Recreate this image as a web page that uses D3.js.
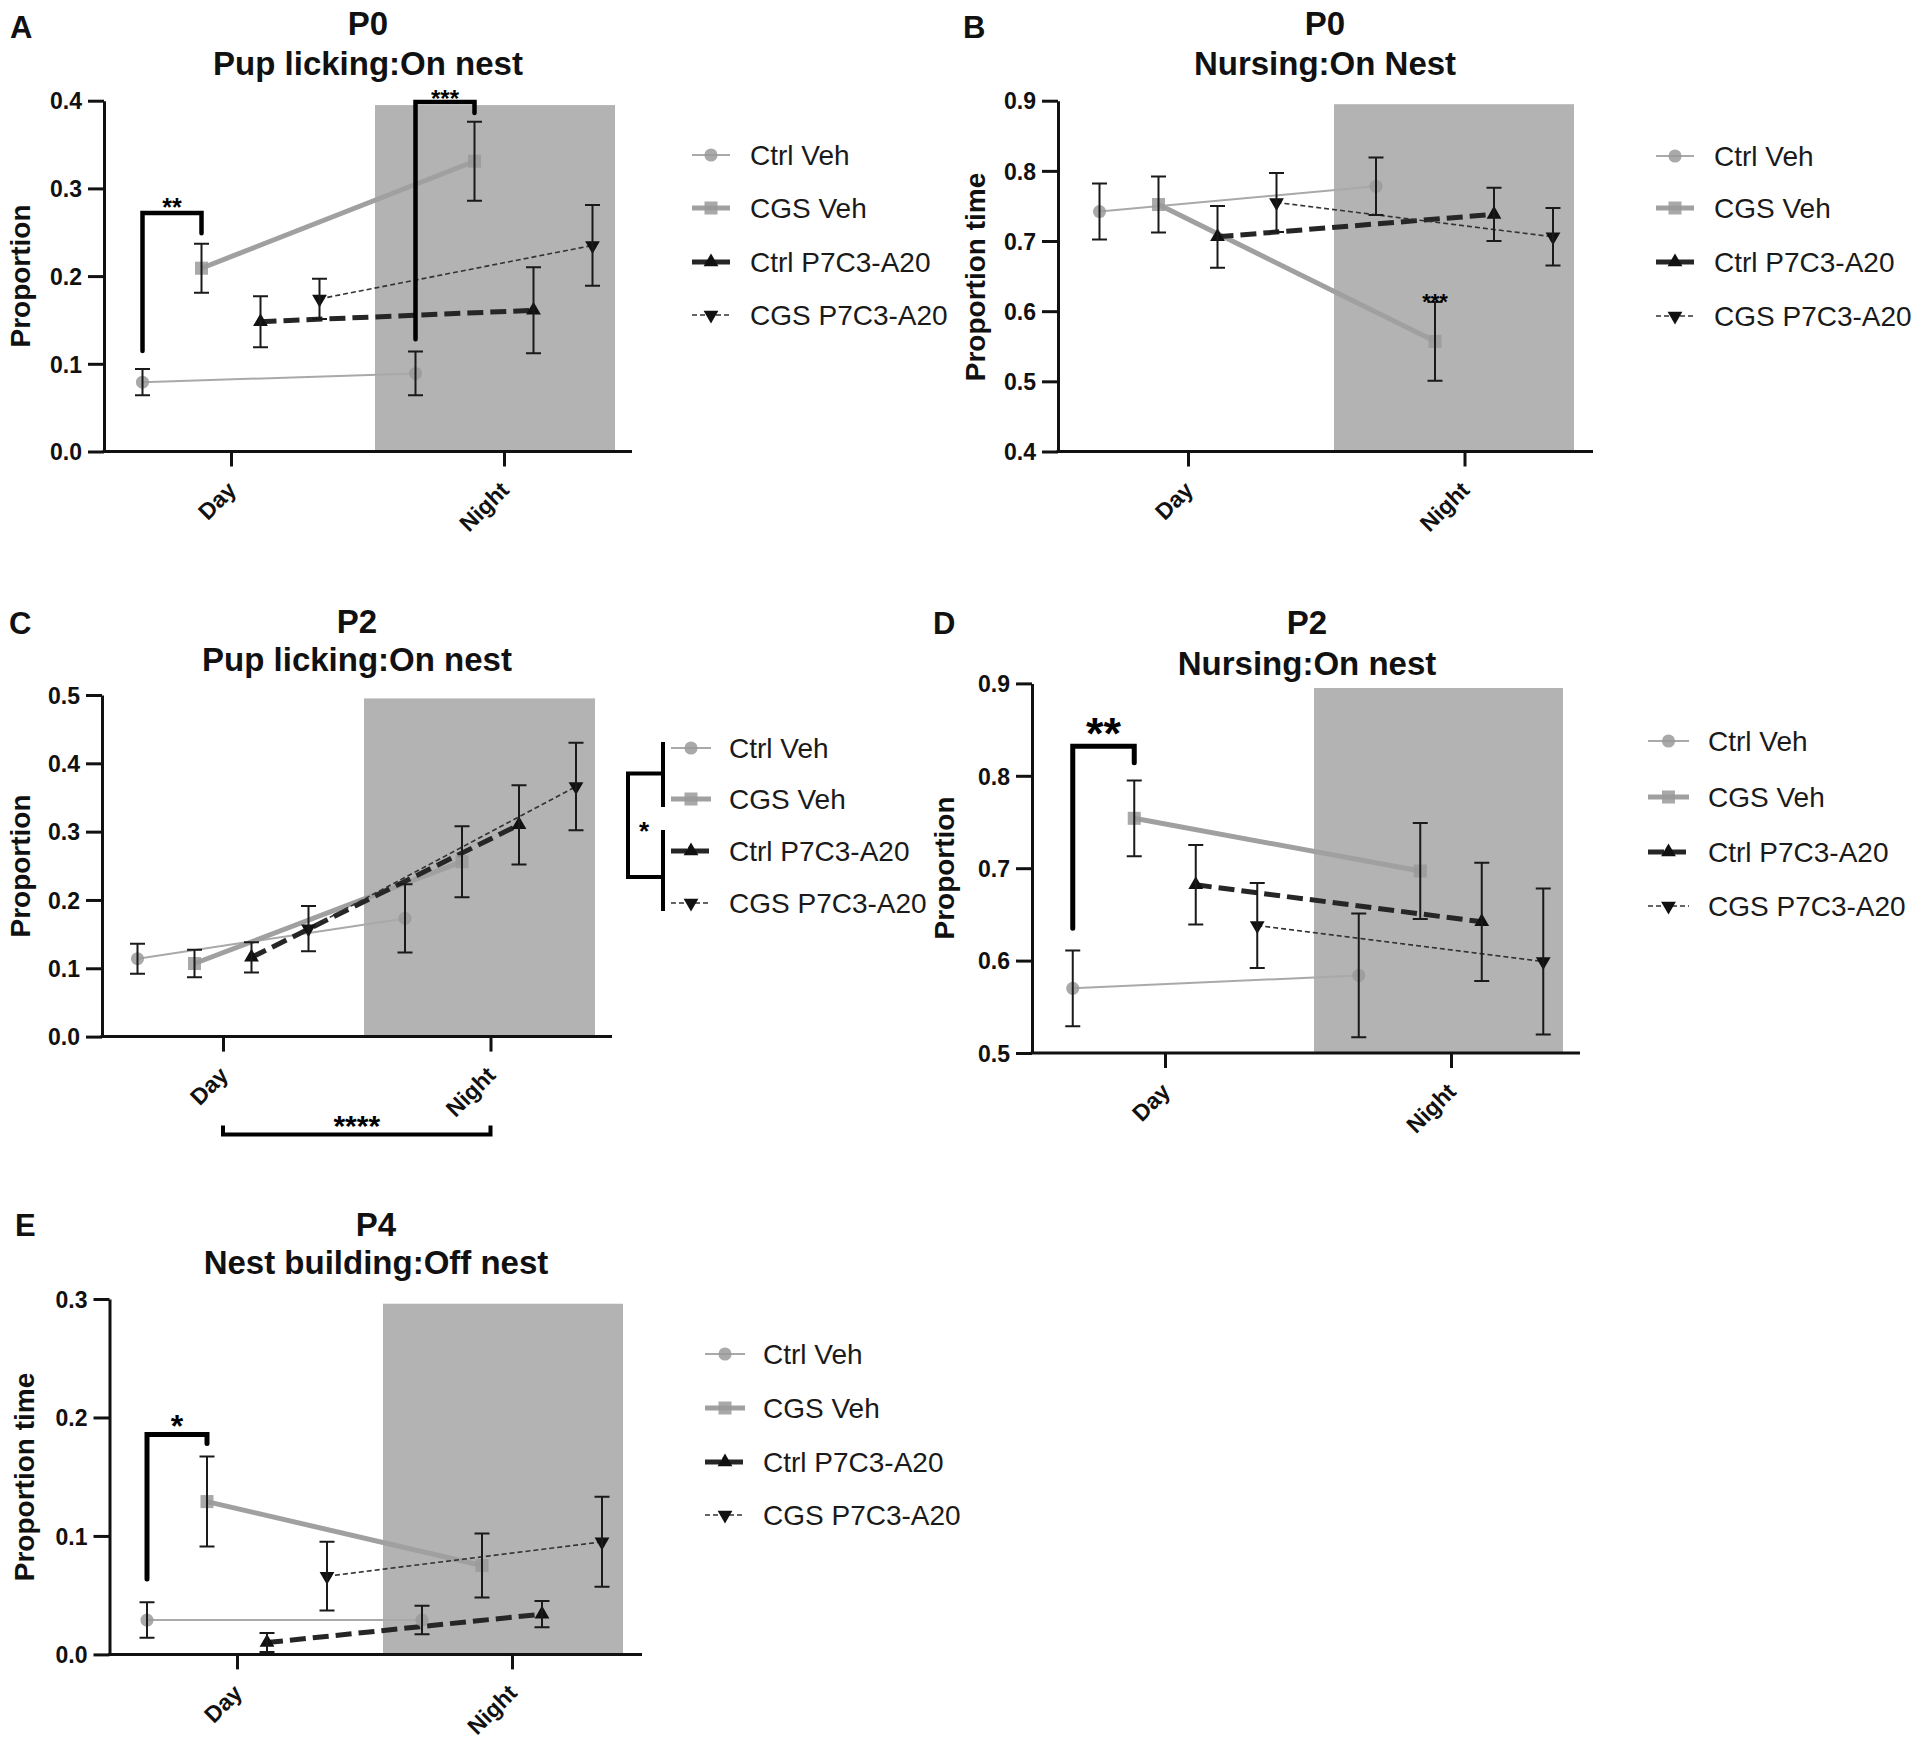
<!DOCTYPE html>
<html><head><meta charset="utf-8">
<script src="https://cdn.jsdelivr.net/npm/d3@7"></script>
<style>
body{margin:0;background:#fff}
svg{display:block}
text{font-family:"Liberation Sans",Arial,Helvetica,sans-serif}
</style>
</head><body>
<svg id="chart" width="1920" height="1746"></svg>
<script>
// ---------------- DATA ----------------
const categories = ["Day", "Night"];
const seriesNames = ["Ctrl Veh", "CGS Veh", "Ctrl P7C3-A20", "CGS P7C3-A20"];

// Panel A: P0 Pup licking:On nest  (mean [Day, Night] per series, SEM)
const aTitle = ["P0", "Pup licking:On nest"];
const aYLabel = "Proportion";
const aDomain = [0, 0.4];
const aTicks = [0, 0.1, 0.2, 0.3, 0.4];
const aMean = [[0.079, 0.089], [0.209, 0.331], [0.148, 0.161], [0.174, 0.235]];
const aSem  = [[0.015, 0.025], [0.028, 0.045], [0.029, 0.049], [0.023, 0.046]];

// Panel B: P0 Nursing:On Nest
const bTitle = ["P0", "Nursing:On Nest"];
const bYLabel = "Proportion time";
const bDomain = [0.4, 0.9];
const bTicks = [0.4, 0.5, 0.6, 0.7, 0.8, 0.9];
const bMean = [[0.742, 0.778], [0.752, 0.557], [0.706, 0.738], [0.755, 0.706]];
const bSem  = [[0.040, 0.041], [0.040, 0.056], [0.044, 0.038], [0.042, 0.041]];

// Panel C: P2 Pup licking:On nest
const cTitle = ["P2", "Pup licking:On nest"];
const cYLabel = "Proportion";
const cDomain = [0, 0.5];
const cTicks = [0, 0.1, 0.2, 0.3, 0.4, 0.5];
const cMean = [[0.114, 0.173], [0.107, 0.256], [0.116, 0.310], [0.158, 0.366]];
const cSem  = [[0.022, 0.050], [0.020, 0.052], [0.022, 0.058], [0.033, 0.064]];

// Panel D: P2 Nursing:On nest
const dTitle = ["P2", "Nursing:On nest"];
const dYLabel = "Proportion";
const dDomain = [0.5, 0.9];
const dTicks = [0.5, 0.6, 0.7, 0.8, 0.9];
const dMean = [[0.570, 0.584], [0.754, 0.697], [0.682, 0.642], [0.638, 0.599]];
const dSem  = [[0.041, 0.067], [0.041, 0.052], [0.043, 0.064], [0.046, 0.079]];

// Panel E: P4 Nest building:Off nest
const eTitle = ["P4", "Nest building:Off nest"];
const eYLabel = "Proportion time";
const eDomain = [0, 0.3];
const eTicks = [0, 0.1, 0.2, 0.3];
const eMean = [[0.029, 0.029], [0.129, 0.075], [0.010, 0.034], [0.066, 0.095]];
const eSem  = [[0.015, 0.012], [0.038, 0.027], [0.008, 0.011], [0.029, 0.038]];

// significance annotations (values in data units)
const aSig = [
  {series: [0, 1], cat: "Day", legs: [0.1146, 0.272, 0.249], label: "**"},
  {series: [0, 1], cat: "Night", legs: [0.128, 0.3985, 0.386], label: "***"}
];
const bSig = [{series: 1, cat: "Night", at: 0.622, label: "***"}];
const dSig = [{series: [0, 1], cat: "Day", legs: [0.635, 0.832, 0.814], label: "**"}];
const eSig = [{series: [0, 1], cat: "Day", legs: [0.0636, 0.1857, 0.178], label: "*"}];

// ---------------- STYLE / LAYOUT ----------------
const seriesStyle = [
  {line: "#a9a9a9", width: 2, dash: null, legDash: null, sym: d3.symbolCircle, size: 135, fill: "#9a9a9a", op: 0.85, rot: 0},
  {line: "#a0a0a0", width: 5, dash: null, legDash: null, sym: d3.symbolSquare, size: 170, fill: "#9a9a9a", op: 0.85, rot: 0},
  {line: "#262626", width: 5, dash: "16,7", legDash: "16,6", sym: d3.symbolTriangle, size: 95, fill: "#111", op: 1, rot: 0},
  {line: "#333", width: 1.6, dash: "5,3", legDash: "5,3", sym: d3.symbolTriangle, size: 95, fill: "#111", op: 1, rot: 180}
];

const layouts = {
  A: {ax: 104, yTop: 100.7, yBot: 451.5, xEnd: 632, day: 231, night: 504, sp: 59, shade: [375, 615], shadeTop: 0.395,
      titleX: 368, titleY: [35, 75], letter: "A", letterPos: [10, 38], axTitle: [20, 276],
      legend: {x0: 692, x1: 730, tx: 750, rows: [155, 208, 262, 315]},
      sigStyle: [{fs: 25, gap: 11, sw: 4.5}, {fs: 24, gap: 9, sw: 4.5}]},
  B: {ax: 1058, yTop: 100.7, yBot: 451.5, xEnd: 1593, day: 1188, night: 1464.5, sp: 59, shade: [1334, 1574], shadeTop: 0.895,
      titleX: 1325, titleY: [35, 75], letter: "B", letterPos: [963, 38], axTitle: [975, 277],
      legend: {x0: 1656, x1: 1694, tx: 1714, rows: [156, 208, 262, 316]},
      sigStyle: [{fs: 22}]},
  C: {ax: 102, yTop: 695, yBot: 1036.6, xEnd: 612, day: 223, night: 490.5, sp: 57, shade: [364, 595], shadeTop: 0.495,
      titleX: 357, titleY: [633, 671], letter: "C", letterPos: [9, 634], axTitle: [20, 866],
      legend: {x0: 671, x1: 711, tx: 729, rows: [748, 799, 851, 903]}},
  D: {ax: 1032, yTop: 683.4, yBot: 1053, xEnd: 1580, day: 1165, night: 1451, sp: 61.5, shade: [1314, 1563], shadeTop: 0.895,
      titleX: 1307, titleY: [634, 675], letter: "D", letterPos: [933, 634], axTitle: [944, 868],
      legend: {x0: 1648, x1: 1689, tx: 1708, rows: [741, 797, 852, 906]},
      sigStyle: [{fs: 45, gap: 23, sw: 5}]},
  E: {ax: 109.5, yTop: 1299, yBot: 1654.4, xEnd: 642, day: 237, night: 512, sp: 60, shade: [383, 623], shadeTop: 0.296,
      titleX: 376, titleY: [1236, 1274], letter: "E", letterPos: [15, 1236], axTitle: [24, 1477],
      legend: {x0: 705, x1: 745, tx: 763, rows: [1354, 1408, 1462, 1515]},
      sigStyle: [{fs: 32, gap: 16, sw: 5}]}
};

const INK = "#111";
const svg = d3.select("#chart");

function drawPanel(L, title, yLabel, domain, ticks, mean, sem, sigs) {
  const g = svg.append("g");
  const y = d3.scaleLinear().domain(domain).range([L.yBot, L.yTop]);
  const xc = d3.scalePoint().domain(categories).range([L.day, L.night]);
  const xs = d3.scalePoint().domain(d3.range(seriesNames.length)).range([-1.5 * L.sp, 1.5 * L.sp]);
  const px = (i, c) => xc(c) + xs(i);

  // night shading
  g.append("rect")
    .attr("x", L.shade[0]).attr("width", L.shade[1] - L.shade[0])
    .attr("y", y(L.shadeTop)).attr("height", L.yBot - y(L.shadeTop))
    .attr("fill", "#b3b3b3");

  // y axis
  const yAx = g.append("g").attr("transform", `translate(${L.ax},0)`)
    .call(d3.axisLeft(y).tickValues(ticks).tickSize(16).tickSizeOuter(0).tickPadding(6).tickFormat(d3.format(".1f")));
  yAx.select(".domain").attr("stroke", INK).attr("stroke-width", 3);
  yAx.selectAll(".tick line").attr("stroke", INK).attr("stroke-width", 3);
  yAx.selectAll(".tick text").attr("fill", INK).attr("font-size", 23).attr("font-weight", "bold")
    .attr("font-family", "'Liberation Sans', Arial, sans-serif").attr("dy", "0.36em");

  // x axis
  const xAx = g.append("g").attr("transform", `translate(0,${L.yBot})`)
    .call(d3.axisBottom(xc).tickSize(15).tickSizeOuter(0));
  xAx.select(".domain").attr("d", `M${L.ax - 1.5},0H${L.xEnd}`).attr("stroke", INK).attr("stroke-width", 3);
  xAx.selectAll(".tick line").attr("stroke", INK).attr("stroke-width", 3);
  xAx.selectAll(".tick text").attr("fill", INK).attr("font-size", 23).attr("font-weight", "bold")
    .attr("font-family", "'Liberation Sans', Arial, sans-serif")
    .attr("text-anchor", "end").attr("x", 6).attr("y", 40).attr("dy", null)
    .attr("transform", "rotate(-45,6,40)");

  // axis title
  g.append("text").attr("transform", `translate(${L.axTitle[0]},${L.axTitle[1]}) rotate(-90)`)
    .attr("text-anchor", "middle").attr("dy", "0.35em")
    .attr("font-size", 28).attr("font-weight", "bold").attr("fill", INK).text(yLabel);

  // titles
  g.append("text").attr("x", L.titleX).attr("y", L.titleY[0]).attr("text-anchor", "middle")
    .attr("font-size", 33).attr("font-weight", "bold").attr("fill", INK).text(title[0]);
  g.append("text").attr("x", L.titleX).attr("y", L.titleY[1]).attr("text-anchor", "middle")
    .attr("font-size", 33).attr("font-weight", "bold").attr("fill", INK).text(title[1]);
  g.append("text").attr("x", L.letterPos[0]).attr("y", L.letterPos[1])
    .attr("font-size", 31).attr("font-weight", "bold").attr("fill", INK).text(L.letter);

  // lines
  const line = d3.line().x(d => d.x).y(d => d.y);
  seriesNames.forEach((s, i) => {
    const st = seriesStyle[i];
    const pts = categories.map((c, j) => ({x: px(i, c), y: y(mean[i][j])}));
    g.append("path").attr("d", line(pts)).attr("fill", "none")
      .attr("stroke", st.line).attr("stroke-width", st.width)
      .attr("stroke-dasharray", st.dash);
  });

  // markers
  seriesNames.forEach((s, i) => {
    const st = seriesStyle[i];
    categories.forEach((c, j) => {
      g.append("path").attr("d", d3.symbol(st.sym, st.size)())
        .attr("transform", `translate(${px(i, c)},${y(mean[i][j])}) rotate(${st.rot})`)
        .attr("fill", st.fill).attr("fill-opacity", st.op);
    });
  });

  // error bars
  seriesNames.forEach((s, i) => {
    categories.forEach((c, j) => {
      const x = px(i, c), y1 = y(mean[i][j] + sem[i][j]), y0 = y(Math.max(domain[0], mean[i][j] - sem[i][j]));
      g.append("path").attr("d", `M${x},${y0}V${y1}M${x - 7.5},${y1}H${x + 7.5}M${x - 7.5},${y0}H${x + 7.5}`)
        .attr("stroke", "#1a1a1a").attr("stroke-width", 2).attr("fill", "none");
    });
  });

  // significance
  (sigs || []).forEach((s, k) => {
    const ss = (L.sigStyle || [])[k] || {fs: 24, gap: 10, sw: 4.5};
    if (Array.isArray(s.series)) {
      const xa = px(s.series[0], s.cat), xb = px(s.series[1], s.cat);
      const yt = y(s.legs[1]);
      g.append("path").attr("d", `M${xa},${y(s.legs[0])}V${yt}H${xb}V${y(s.legs[2])}`)
        .attr("fill", "none").attr("stroke", "#000").attr("stroke-width", ss.sw)
        .attr("stroke-linejoin", "miter").attr("stroke-linecap", "round");
      g.append("text").attr("x", (xa + xb) / 2).attr("y", yt - ss.gap + 0.58 * ss.fs)
        .attr("text-anchor", "middle").attr("font-size", ss.fs).attr("font-weight", "bold").attr("fill", "#000").text(s.label);
    } else {
      g.append("text").attr("x", px(s.series, s.cat)).attr("y", y(s.at) + 0.58 * ss.fs)
        .attr("text-anchor", "middle").attr("font-size", ss.fs).attr("font-weight", "bold").attr("fill", "#000").text(s.label);
    }
  });

  // legend
  const lg = L.legend;
  seriesNames.forEach((s, i) => {
    const st = seriesStyle[i];
    const ry = lg.rows[i];
    g.append("line").attr("x1", lg.x0).attr("x2", lg.x1).attr("y1", ry).attr("y2", ry)
      .attr("stroke", st.line).attr("stroke-width", st.width).attr("stroke-dasharray", st.legDash);
    g.append("path").attr("d", d3.symbol(st.sym, st.size)())
      .attr("transform", `translate(${(lg.x0 + lg.x1) / 2},${ry}) rotate(${st.rot})`)
      .attr("fill", st.fill).attr("fill-opacity", st.op);
    g.append("text").attr("x", lg.tx).attr("y", ry).attr("dy", "0.35em")
      .attr("font-size", 28).attr("fill", "#1a1a1a").text(s);
  });
  return {g, y, xc, px};
}

drawPanel(layouts.A, aTitle, aYLabel, aDomain, aTicks, aMean, aSem, aSig);
drawPanel(layouts.B, bTitle, bYLabel, bDomain, bTicks, bMean, bSem, bSig);
const pc = drawPanel(layouts.C, cTitle, cYLabel, cDomain, cTicks, cMean, cSem, []);
drawPanel(layouts.D, dTitle, dYLabel, dDomain, dTicks, dMean, dSem, dSig);
drawPanel(layouts.E, eTitle, eYLabel, eDomain, eTicks, eMean, eSem, eSig);

// Panel C extra annotations: Day vs Night main effect and treatment bracket on legend
(function () {
  const L = layouts.C, g = pc.g;
  const xd = pc.xc("Day"), xn = pc.xc("Night");
  const yb = L.yBot + 98;
  g.append("path").attr("d", `M${xd},${yb - 9}V${yb}H${xn}V${yb - 9}`)
    .attr("fill", "none").attr("stroke", "#000").attr("stroke-width", 4);
  g.append("text").attr("x", (xd + xn) / 2).attr("y", yb - 16 + 0.58 * 30).attr("text-anchor", "middle")
    .attr("font-size", 30).attr("font-weight", "bold").attr("fill", "#000").text("****");
  const r = L.legend.rows;
  const xr = 663, xl = 628;
  const yu = (r[0] + r[1]) / 2, yl = (r[2] + r[3]) / 2;
  g.append("path").attr("d", `M${xr},${r[0] - 6}V${r[1] + 8}M${xr},${r[2] - 21}V${r[3] + 8}M${xr},${yu}H${xl}V${yl}H${xr}`)
    .attr("fill", "none").attr("stroke", "#000").attr("stroke-width", 4);
  g.append("text").attr("x", 644).attr("y", (yu + yl) / 2 + 0.58 * 26).attr("text-anchor", "middle")
    .attr("font-size", 26).attr("font-weight", "bold").attr("fill", "#000").text("*");
})();
</script>
</body></html>
